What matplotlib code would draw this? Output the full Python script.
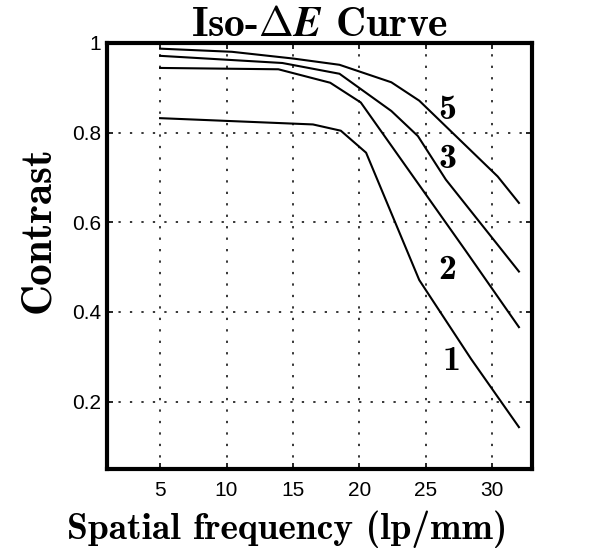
import matplotlib
matplotlib.use('Agg')
import matplotlib.pyplot as plt

plt.rcParams['mathtext.fontset'] = 'cm'

# Iso-dE curves: spatial frequency (lp/mm) vs contrast
x_de5 = [5, 10.4, 15, 18.5, 22.4, 24.5, 30.4, 32]
c_de5 = [0.987, 0.980, 0.965, 0.951, 0.912, 0.871, 0.702, 0.643]

x_de3 = [5, 14.2, 18.5, 22.4, 24.4, 26.5, 32]
c_de3 = [0.971, 0.955, 0.931, 0.848, 0.792, 0.695, 0.490]

x_de2 = [5, 13.9, 17.8, 20.1, 28.0, 32]
c_de2 = [0.944, 0.941, 0.911, 0.867, 0.536, 0.366]

x_de1 = [5, 16.5, 18.6, 20.5, 24.5, 28.4, 32]
c_de1 = [0.832, 0.818, 0.804, 0.755, 0.471, 0.295, 0.143]

curve_labels = ['5', '3', '2', '1']
label_x = [26.6, 26.6, 26.6, 26.9]
label_y = [0.850, 0.740, 0.492, 0.290]

xticks = [5, 10, 15, 20, 25, 30]
yticks = [0.2, 0.4, 0.6, 0.8, 1.0]
ytick_labels = ['0.2', '0.4', '0.6', '0.8', '1']

fig = plt.figure(figsize=(5.94, 5.49), dpi=100)
ax = fig.add_axes([0.180, 0.146, 0.716, 0.776])

for xs, cs in [(x_de5, c_de5), (x_de3, c_de3), (x_de2, c_de2), (x_de1, c_de1)]:
    ax.plot(xs, cs, color='black', linewidth=1.5)

for lab, lx, ly in zip(curve_labels, label_x, label_y):
    ax.text(lx, ly, lab, fontsize=26, family='cmb10', ha='center', va='center')

ax.set_xlim(1, 33)
ax.set_ylim(0.05, 1.0)
ax.set_xticks(xticks)
ax.set_yticks(yticks)
ax.set_yticklabels(ytick_labels)
ax.tick_params(direction='in', length=4, width=1.2, top=True, right=True,
               labelsize=15)
ax.tick_params(axis='x', pad=9)
ax.tick_params(axis='y', pad=4)
for lab in ax.get_xticklabels() + ax.get_yticklabels():
    lab.set_family('Liberation Sans')

ax.grid(True, color='black', linewidth=1.1, linestyle=(0, (1.5, 6)))
for sp in ax.spines.values():
    sp.set_linewidth(3)

ax.set_title(r'Iso-$\Delta\boldsymbol{E}$ Curve', family='cmb10', fontsize=30, pad=5)
ax.set_xlabel('Spatial frequency (lp/mm)', family='cmb10', fontsize=27)
ax.xaxis.set_label_coords(0.424, -0.098)
ax.set_ylabel('Contrast', family='cmb10', fontsize=31)
ax.yaxis.set_label_coords(-0.114, 0.561)

fig.savefig('out.png', dpi=100)
